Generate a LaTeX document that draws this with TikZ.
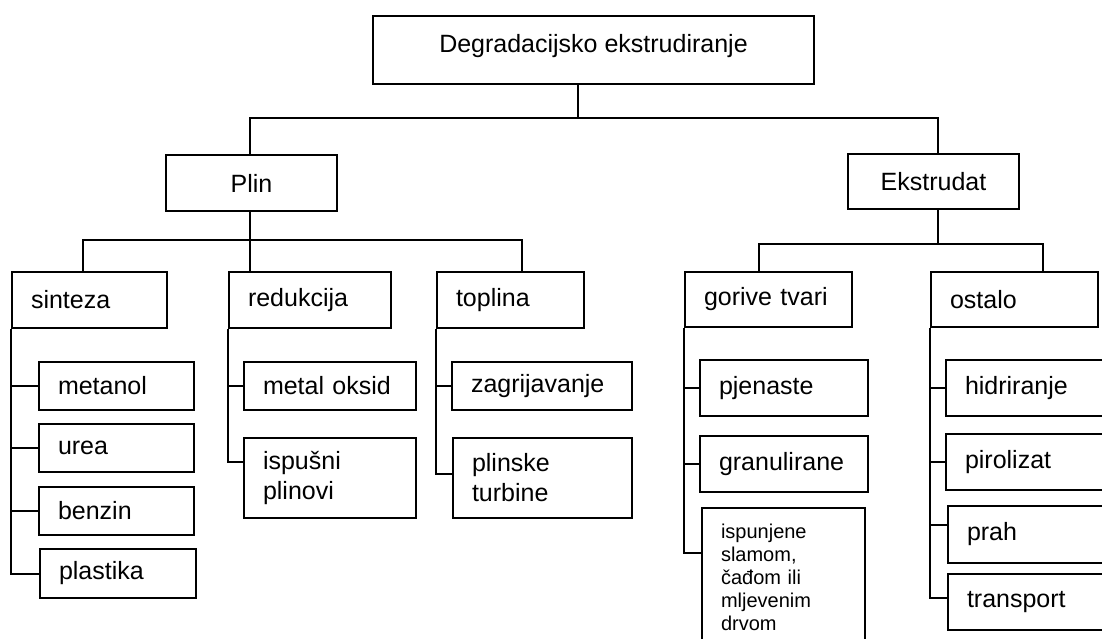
\documentclass[tikz,border=0pt]{standalone}
\usepackage{fontspec}
\setmainfont{Liberation Sans}
\usepackage{tikz}

\tikzset{
  box/.style={draw, anchor=north west, inner xsep=19pt, inner ysep=0pt, align=left, font=\fontsize{25}{30}\selectfont},
  head/.style={draw, anchor=north west, inner sep=0pt, align=center, font=\fontsize{25}{30}\selectfont},
  small/.style={font=\fontsize{20}{23}\selectfont}
}

\begin{document}
\begin{tikzpicture}[x=1pt,y=-1pt,line width=2pt]
\useasboundingbox (0,0) rectangle (1102,639);
\clip (0,0) rectangle (1102,639);
%\coordinate at (0,0);
\node[head, minimum width=441pt, minimum height=68pt, text depth=14pt] at (372,15) (Top) {Degradacijsko ekstrudiranje};
\node[head, minimum width=171pt, minimum height=56pt] at (165,154) (Plin) {Plin};
\node[head, minimum width=171pt, minimum height=55pt] at (847,153) (Ekstrudat) {Ekstrudat};

\node[box, text width=117pt, minimum height=56pt] at (11,271) (Sinteza) {sinteza};
\node[box, text width=117pt, minimum height=48pt] at (38,361) (Metanol) {metanol};
\node[box, text width=117pt, minimum height=48pt] at (38,423) (Urea) {urea};
\node[box, text width=117pt, minimum height=48pt] at (38,486) (Benzin) {benzin};
\node[box, text width=118pt, minimum height=49pt] at (39,548) (Plastika) {plastika};

\node[box, text width=124pt, minimum height=56pt] at (228,271) (Redukcija) {redukcija};
\node[box, text width=134pt, minimum height=48pt] at (243,361) (Oksid) {metal oksid};
\node[box, text width=134pt, minimum height=80pt] at (243,437) (Ispusni) {ispušni\\plinovi};

\node[box, text width=109pt, minimum height=56pt] at (436,271) (Toplina) {toplina};
\node[box, text width=142pt, minimum height=48pt] at (451,361) (Zagrijavanje) {zagrijavanje};
\node[box, text width=141pt, minimum height=80pt] at (452,437) (Turbine) {plinske\\turbine};

\node[box, text width=129pt, minimum height=55pt] at (684,271) (Gorive) {gorive tvari};
\node[box, text width=130pt, minimum height=56pt] at (699,359) (Pjenaste) {pjenaste};
\node[box, text width=130pt, minimum height=56pt] at (699,435) (Granulirane) {granulirane};
\node[box, small, text width=125pt, minimum height=138pt] at (701,507) (Ispunjene) {ispunjene\\slamom,\\čađom ili\\mljevenim\\drvom};

\node[box, text width=129pt, minimum height=55pt] at (930,271) (Ostalo) {ostalo};
\node[box, text width=132pt, minimum height=56pt] at (945,359) (Hidriranje) {hidriranje};
\node[box, text width=132pt, minimum height=56pt] at (945,433) (Pirolizat) {pirolizat};
\node[box, text width=132pt, minimum height=57pt] at (947,505) (Prah) {prah};
\node[box, text width=132pt, minimum height=56pt] at (947,573) (Transport) {transport};

\coordinate (TopMid) at (578,118);
\coordinate (TopL) at (250,118);
\coordinate (TopR) at (938,118);
\coordinate (PlinL) at (83,240);
\coordinate (PlinR) at (522,240);
\coordinate (EkL) at (759,244);
\coordinate (EkR) at (1043,244);

\draw (TopMid |- Top.south) -- (TopMid);
\draw (Plin.north -| TopL) -- (TopL) -- (TopR) -- (Ekstrudat.north -| TopR);
\draw (Plin.south -| TopL) -- (Redukcija.north -| TopL);
\draw (Sinteza.north -| PlinL) -- (PlinL) -- (PlinR) -- (Toplina.north -| PlinR);
\draw (Ekstrudat.south -| TopR) -- (TopR |- EkL);
\draw (Gorive.north -| EkL) -- (EkL) -- (EkR) -- (Ostalo.north -| EkR);

\draw (Sinteza.south west) |- (Plastika.west);
\draw (Sinteza.south west |- Metanol.west) -- (Metanol.west);
\draw (Sinteza.south west |- Urea.west) -- (Urea.west);
\draw (Sinteza.south west |- Benzin.west) -- (Benzin.west);

\draw (Redukcija.south west) |- ([yshift=16pt]Ispusni.west);
\draw (Redukcija.south west |- Oksid.west) -- (Oksid.west);

\draw (Toplina.south west) |- ([yshift=4pt]Turbine.west);
\draw (Toplina.south west |- Zagrijavanje.west) -- (Zagrijavanje.west);

\draw (Gorive.south west) |- ([yshift=-46pt]Ispunjene.north west);
\draw (Gorive.south west |- Pjenaste.west) -- (Pjenaste.west);
\draw (Gorive.south west |- Granulirane.west) -- (Granulirane.west);

\draw (Ostalo.south west) |- ([yshift=4pt]Transport.west);
\draw (Ostalo.south west |- Hidriranje.west) -- (Hidriranje.west);
\draw (Ostalo.south west |- Pirolizat.west) -- (Pirolizat.west);
\draw ([yshift=10pt]Prah.west -| Ostalo.south west) -- ([yshift=10pt]Prah.west);
\end{tikzpicture}
\end{document}
